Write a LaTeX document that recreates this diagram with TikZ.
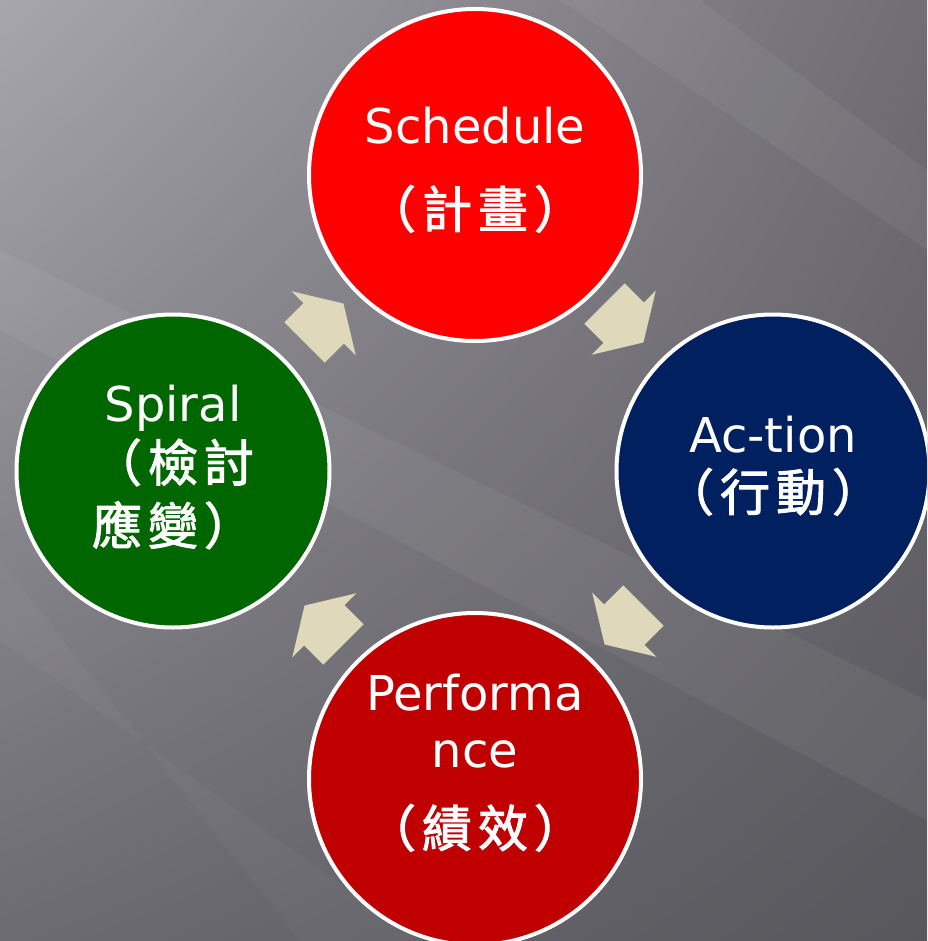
\documentclass[tikz,border=0pt]{standalone}
\usepackage{fontspec}
\setmainfont{DejaVu Sans}
\newfontfamily\cjk[FakeBold=2, LetterSpace=12]{Noto Sans CJK TC}
\usetikzlibrary{calc,shadings}
\definecolor{schedred}{HTML}{FF0000}
\definecolor{actionblue}{HTML}{002060}
\definecolor{perfred}{HTML}{C00000}
\definecolor{spiralgreen}{HTML}{006600}
\definecolor{arrowbeige}{HTML}{E0D8BA}
\definecolor{bgul}{RGB}{168,166,173}
\definecolor{bgur}{RGB}{112,110,116}
\definecolor{bgll}{RGB}{108,107,113}
\definecolor{bglr}{RGB}{88,87,92}
\newcommand\zh[1]{{\cjk\fontsize{50}{60}\selectfont #1}}
\begin{document}
\begin{tikzpicture}[x=1pt, y=-1pt,
    stage/.style={shape=circle, draw=white, line width=4pt, inner sep=0pt},
    big/.style={minimum size=332pt},
    small/.style={minimum size=313pt},
    stagetext/.style={text=white, align=center, inner sep=0pt,
                      font=\fontsize{48}{60}\selectfont},
    cyclearrow/.style={fill=arrowbeige}]
  \useasboundingbox (0,0) rectangle (927,941);
  \clip (0,0) rectangle (927,941);
  % background
  \shade[upper left=bgul, upper right=bgur, lower left=bgll, lower right=bglr]
    (0,0) rectangle (927,941);
  \fill[white, opacity=.05] (0,250) -- (0,330) -- (927,820) -- (927,700) -- cycle;
  \fill[white, opacity=.05] (560,0) -- (700,0) -- (927,170) -- (927,250) -- cycle;
  \fill[white, opacity=.03] (0,560) -- (0,640) -- (420,941) -- (300,941) -- cycle;
  % stages
  \node[stage, big, fill=schedred] (schedule) at (475,175) {};
  \node[stage, small, fill=actionblue] (action) at (773,471) {};
  \node[stage, big, fill=perfred] (perf) at (475,779) {};
  \node[stage, small, fill=spiralgreen] (spiral) at (173,471) {};
  % texts
  \node[stagetext, yshift=5pt] (schedule-text) at (schedule)
    {Schedule\\[24pt]\zh{（計畫）}};
  \node[stagetext, yshift=5pt] (action-text) at (action)
    {Ac-tion\\[-2pt]\zh{（行動）}};
  \node[stagetext, yshift=16pt] (perf-text) at (perf)
    {Performa\\[-3pt]nce\\[19pt]\zh{（績效）}};
  \node[stagetext, yshift=4pt] (spiral-text) at (spiral)
    {Spiral\\[0pt]\zh{（檢討}\\[3pt]\zh{應變）}};
  % block arrows
  \foreach \a/\b/\r in {spiral/schedule/45, schedule/action/-45,
                        action/perf/-135, perf/spiral/135}
    \fill[cyclearrow, shift={($(\a)!0.5!(\b)$)}, rotate=\r]
      (-27.5,-28.5) -- (-0.5,-28.5) -- (-0.5,-45.5) -- (27.5,0)
      -- (-0.5,45.5) -- (-0.5,28.5) -- (-27.5,28.5) -- cycle;
\end{tikzpicture}
\end{document}
